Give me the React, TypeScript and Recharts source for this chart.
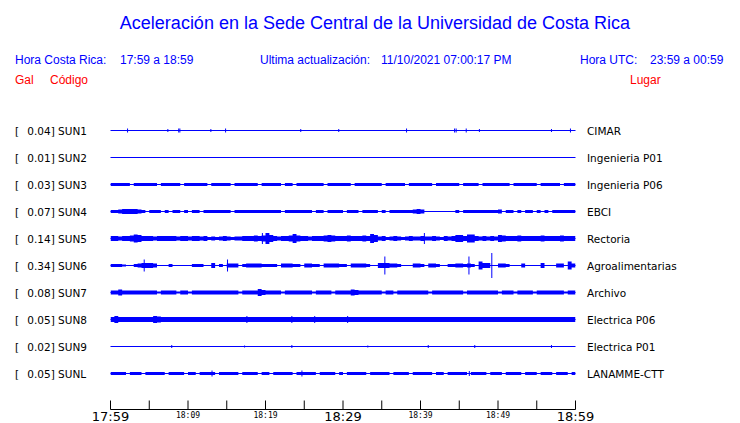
import React from 'react';
import { ComposedChart, Area, XAxis, YAxis, ReferenceLine } from 'recharts';

// ---------- stations ----------
const codes = ['SUN1', 'SUN2', 'SUN3', 'SUN4', 'SUN5', 'SUN6', 'SUN7', 'SUN8', 'SUN9', 'SUNL'];
const peaks = ['0.04', '0.01', '0.03', '0.07', '0.14', '0.34', '0.08', '0.05', '0.02', '0.05'];
const places = [
  'CIMAR', 'Ingenieria P01', 'Ingenieria P06', 'EBCI', 'Rectoria',
  'Agroalimentarias', 'Archivo', 'Electrica P06', 'Electrica P01', 'LANAMME-CTT',
];

// ---------- time axis (minutes after 17:59) ----------
const tickMinutes = [0, 5, 10, 15, 20, 25, 30, 35, 40, 45, 50, 55, 60];
const tickLabels = ['17:59', '', '18:09', '', '18:19', '', '18:29', '', '18:39', '', '18:49', '', '18:59'];
const majorLabels = ['17:59', '18:29', '18:59'];
const sampleStep = 0.5; // minutes between envelope samples (121 samples)

// ---------- envelope half-amplitudes, one per 0.5 min ----------
const sun1Env: number[] = [];
const sun2Env: number[] = [];
const sun3Env = [
  1.5, 1.5, 1.5, 1.5, 1.5, 0, 1.5, 1.5, 1.5, 1.5,
  1.5, 1.5, 0, 1.5, 1.5, 1.5, 1.5, 1.5, 0, 1.5,
  1.5, 1.5, 1.5, 1.5, 1.5, 0, 1.5, 1.5, 1.5, 1.5,
  1.5, 0, 1.5, 1.5, 1.5, 1.5, 1.5, 1.5, 0, 1.5,
  1.5, 1.5, 1.5, 1.5, 0, 1.5, 1.5, 0, 1.5, 1.5,
  1.5, 1.5, 1.5, 1.5, 1.5, 0, 1.5, 1.5, 1.5, 1.5,
  1.5, 1.5, 0, 1.5, 1.5, 1.5, 1.5, 1.5, 1.5, 1.5,
  0, 1.5, 1.5, 1.5, 1.5, 1.5, 0, 1.5, 1.5, 1.5,
  1.5, 1.5, 1.5, 0, 1.5, 1.5, 1.5, 1.5, 1.5, 1.5,
  0, 1.5, 1.5, 1.5, 1.5, 0, 1.5, 1.5, 1.5, 1.5,
  1.5, 1.5, 1.5, 0, 1.5, 1.5, 1.5, 1.5, 1.5, 1.5,
  0, 1.5, 1.5, 1.5, 1.5, 1.5, 0, 1.5, 1.5, 1.5,
  1.5,
];
const sun4Env = [
  1.5, 1.5, 2, 2.5, 2.5, 2.5, 2.5, 2, 1.5, 0,
  1.5, 1.5, 1.5, 0, 1.5, 0, 1.5, 1.5, 0, 1.5,
  0, 1.5, 1.5, 0, 1.5, 1.5, 1.5, 1.5, 1.5, 1.5,
  1.5, 0, 1.5, 1.5, 1.5, 1.5, 1.5, 1.5, 1.5, 1.5,
  1.5, 1.5, 1.5, 1.5, 0, 1.5, 1.5, 1.5, 1.5, 1.5,
  1.5, 1.5, 0, 1.5, 1.5, 0, 1.5, 1.5, 1.5, 1.5,
  0, 1.5, 1.5, 1.5, 0, 1.5, 1.5, 1.5, 1.5, 0,
  1.5, 0, 1.5, 1.5, 1.5, 1.5, 1.5, 1.5, 2, 2.5,
  2, 0, 0, 0.5, 0, 0, 0, 0, 0.5, 1.5,
  0, 1.5, 1.5, 1.5, 1.5, 1.5, 1.5, 1.5, 1.5, 1.5,
  2, 0, 1.5, 1.5, 0, 1.5, 0, 1.5, 1.5, 0,
  1.5, 0, 1.5, 0, 1.5, 1.5, 1.5, 1.5, 1.5, 1.5,
  1.5,
];
const sun5Env = [
  2.5, 2.5, 2, 2.5, 2.5, 3, 4, 3.5, 2.5, 2.5,
  2.5, 2, 2.5, 2.5, 2.5, 2.5, 2.5, 2, 2.5, 2.5,
  2, 2.5, 2.5, 2, 2.5, 1.5, 2, 1.5, 2, 2.5,
  2, 1.5, 2, 2, 2.5, 2.5, 2.5, 3, 2.5, 3,
  5.5, 3.5, 2.5, 2, 2.5, 2.5, 3, 4.5, 3, 2.5,
  2.5, 2, 2.5, 2.5, 2.5, 3, 3.5, 3, 2.5, 2.5,
  2.5, 3, 2.5, 2.5, 2.5, 3, 2.5, 4.5, 3.5, 2,
  2.5, 1.5, 2, 2.5, 2, 1.5, 2, 2.5, 2, 2,
  2.5, 2, 2, 2.5, 2, 1.5, 2.5, 2, 2.5, 3.5,
  3.5, 2.5, 4, 4, 2.5, 2, 2.5, 2, 2.5, 2,
  3.5, 3, 2.5, 2.5, 2.5, 3, 2.5, 2.5, 2.5, 2.5,
  2.5, 3, 2.5, 2.5, 2.5, 2.5, 3, 2.5, 2.5, 2.5,
  2.5,
];
const sun6Env = [
  1.5, 1.5, 1.5, 1, 0, 0, 1.5, 2, 2.5, 2.5,
  2.5, 2, 0, 0, 0, 1.5, 0, 0, 0, 0,
  0, 1.5, 1.5, 1.5, 0, 0, 2.5, 0, 1.5, 0,
  2, 2, 2, 0, 1.5, 2, 2, 2, 2, 1.5,
  1.5, 1.5, 1.5, 0, 2, 2, 2, 1.5, 1.5, 0,
  2, 2, 1.5, 1.5, 0, 2, 2, 2, 2, 1.5,
  1.5, 0, 2, 2, 2, 2, 1.5, 0, 0, 2.5,
  2.5, 2.5, 2, 2, 1.5, 0, 0, 0, 2, 2,
  1.5, 0, 2, 2, 1.5, 0, 0, 1.5, 1.5, 2,
  2, 1.5, 2, 1.5, 0, 4, 2.5, 2.5, 0, 0,
  2, 2, 1.5, 0, 0, 0, 2, 0, 0, 0,
  0, 2.5, 0, 0, 0, 2, 2, 0, 4, 2,
  0,
];
const sun7Env = [
  2, 2, 3, 2, 2, 2, 2, 2, 2, 2,
  2, 2, 1, 2, 2, 2, 2, 1, 2, 2,
  1, 2, 2, 2, 2, 2, 2, 2, 2, 2,
  2, 2, 2, 1, 2, 2, 2, 2, 3.5, 2.5,
  2, 2, 2, 2, 1, 2, 2, 2, 2, 2,
  2, 2, 1, 2, 2, 2, 2, 1, 2, 2,
  2, 2, 3, 2.5, 2, 2, 2, 2, 2, 2,
  1, 2, 2, 1, 2, 2, 2, 2, 2, 2,
  2, 2, 1, 2, 2, 2, 2, 2, 2, 2,
  2, 1, 2, 2, 2, 2, 2, 2, 2, 2,
  1, 2, 2, 2, 1, 2, 2, 2, 2, 1,
  2, 2, 2, 2, 2, 2, 2, 1, 2, 2,
  2,
];
const sun8Env = [
  2.5, 3.5, 2.5, 2.5, 2.5, 2.5, 2.5, 2.5, 2.5, 2.5,
  2.5, 3.5, 3, 2.5, 2.5, 2.5, 2.5, 2.5, 2.5, 2.5,
  2.5, 2.5, 2.5, 2.5, 2.5, 2.5, 2.5, 2.5, 2.5, 2.5,
  2.5, 2.5, 2.5, 2.5, 2.5, 2.5, 2.5, 2.5, 2.5, 2.5,
  2.5, 2.5, 2.5, 2.5, 2.5, 2.5, 2.5, 2.5, 2.5, 2.5,
  2.5, 2.5, 2.5, 2.5, 2.5, 2.5, 2.5, 2.5, 2.5, 2.5,
  2.5, 2.5, 2.5, 2.5, 2.5, 2.5, 2.5, 2.5, 2.5, 2.5,
  2.5, 2.5, 2.5, 2.5, 2.5, 2.5, 2.5, 2.5, 2.5, 2.5,
  2.5, 2.5, 2.5, 2.5, 2.5, 2.5, 2.5, 2.5, 2.5, 2.5,
  2.5, 2.5, 2.5, 2.5, 2.5, 2.5, 2.5, 2.5, 2.5, 2.5,
  2.5, 2.5, 2.5, 2.5, 2.5, 2.5, 2.5, 2.5, 2.5, 2.5,
  2.5, 2.5, 2.5, 2.5, 2.5, 2.5, 2.5, 2.5, 2.5, 2.5,
  2.5,
];
const sun9Env: number[] = [];
const sunLEnv = [
  1.5, 1.5, 1.5, 1.5, 0, 1.5, 1.5, 1.5, 0, 1.5,
  1.5, 1.5, 1.5, 1.5, 0, 1.5, 1.5, 1.5, 1.5, 0,
  1.5, 1.5, 0, 1.5, 1.5, 1.5, 1.5, 0, 1.5, 1.5,
  1.5, 1.5, 1.5, 0, 1.5, 1.5, 1.5, 1.5, 0, 1.5,
  1.5, 0, 1.5, 1.5, 1.5, 1.5, 1.5, 0, 1.5, 1.5,
  1.5, 1.5, 1.5, 0, 1.5, 1.5, 1.5, 1.5, 0, 1.5,
  0, 1.5, 1.5, 1.5, 1.5, 1.5, 0, 1.5, 1.5, 1.5,
  1.5, 1.5, 0, 1.5, 1.5, 1.5, 1.5, 0, 1.5, 1.5,
  1.5, 1.5, 1.5, 0, 1.5, 1.5, 0, 1.5, 1.5, 1.5,
  1.5, 1.5, 0, 1.5, 1.5, 1.5, 1.5, 0, 1.5, 1.5,
  1.5, 0, 1.5, 1.5, 1.5, 1.5, 0, 1.5, 1.5, 1.5,
  0, 1.5, 1.5, 1.5, 0, 1.5, 1.5, 1.5, 0, 1.5,
  1.5,
];

// ---------- isolated spikes [minute, half-amplitude] ----------
const sun1Spikes = [
  [2.2, 2], [7.4, 1.5], [8.8, 2], [8.95, 2], [12.95, 1.5], [14.85, 2], [24.55, 1.5],
  [29.45, 1.5], [38.2, 2], [44.4, 2], [44.6, 2], [45.9, 2], [47.6, 1.5], [56.9, 1.5], [59.35, 2],
];
const sun5Spikes = [[19.6, 5.5], [40.5, 5.5]];
const sun6Spikes = [[4.35, 6], [15.1, 6], [35.4, 9], [46.25, 9], [49.2, 12.5]];
const sun8Spikes = [[17.6, 3.5], [23.4, 3.5], [26.35, 3.5], [30.6, 3.5]];
const sun9Spikes = [[7.9, 1.5], [17.3, 1], [23.4, 1.5], [33.2, 1], [41.0, 1.5], [47.0, 1.5], [56.9, 1.5]];
const sunLSpikes = [[13.1, 3], [24.7, 3], [46.3, 2.5]];

const envelopes = [sun1Env, sun2Env, sun3Env, sun4Env, sun5Env, sun6Env, sun7Env, sun8Env, sun9Env, sunLEnv];
const spikes = [sun1Spikes, [], [], [], sun5Spikes, sun6Spikes, [], sun8Spikes, sun9Spikes, sunLSpikes];

// ---------- layout ----------
const BLUE = '#0000ff';
const RED = '#ff0000';
const W = 740;
const H = 423;
const PLOT_TOP = 103;
const PLOT_BOTTOM = 409.5;
const PLOT_LEFT = 110.5;
const PLOT_RIGHT = 575.5;
const Y_SPAN = PLOT_BOTTOM - PLOT_TOP; // one y unit per pixel
const ROW0 = 279;
const ROW_GAP = 27;
const rowCenter = (i: number) => ROW0 - ROW_GAP * i;
const rowPixel = (i: number) => PLOT_TOP + (Y_SPAN - rowCenter(i));

const sampleCount = sun3Env.length;
const rows = Array.from({ length: sampleCount }, (_, k) => {
  const row: Record<string, number | number[]> = { t: k * sampleStep };
  codes.forEach((code, i) => {
    const a = envelopes[i][k] ?? 0;
    const c = rowCenter(i);
    row[code] = [c - a, c + a];
  });
  return row;
});

const SANS = '"Liberation Sans", Arial, Helvetica, sans-serif';
const LABEL_FONT = '"DejaVu Sans", Verdana, sans-serif';

const renderTick = (props: any) => {
  const { x, y, payload } = props;
  const label = tickLabels[tickMinutes.indexOf(payload.value)] || '';
  const major = majorLabels.includes(label);
  return (
    <g>
      <line x1={x} x2={x} y1={y} y2={y - 9} stroke="#000" strokeWidth={1} />
      {label ? (
        <text
          x={x}
          y={major ? y + 11.5 : y + 8.5}
          textAnchor="middle"
          fontFamily={major ? LABEL_FONT : '"DejaVu Sans Mono", monospace'}
          fontSize={major ? 13 : 8}
          fill="#000"
        >
          {label}
        </text>
      ) : null}
    </g>
  );
};

export default function App() {
  return (
    <div style={{ position: 'absolute', left: 0, top: 0, width: W, height: H, background: '#fff' }}>
      <ComposedChart
        width={W}
        height={H}
        data={rows}
        margin={{ top: PLOT_TOP, right: W - PLOT_RIGHT, bottom: 0, left: PLOT_LEFT }}
      >
        <XAxis
          dataKey="t"
          type="number"
          domain={[0, 60]}
          ticks={tickMinutes}
          interval={0}
          height={H - PLOT_BOTTOM}
          tickSize={0}
          tickMargin={0}
          tickLine={false}
          axisLine={{ stroke: '#000', strokeWidth: 1 }}
          tick={renderTick}
          allowDataOverflow
        />
        <YAxis hide type="number" domain={[0, Y_SPAN]} allowDataOverflow />
        {codes.map((code, i) => (
          <ReferenceLine
            key={`base-${code}`}
            y={rowCenter(i)}
            stroke={BLUE}
            strokeWidth={1}
          />
        ))}
        {codes.map((code) => (
          <Area
            key={code}
            dataKey={code}
            type="stepAfter"
            stroke="none"
            fill={BLUE}
            fillOpacity={1}
            dot={false}
            activeDot={false}
            isAnimationActive={false}
          />
        ))}
        {spikes.map((list, i) =>
          list.map(([t, a], j) => (
            <ReferenceLine
              key={`${i}-${j}`}
              segment={[
                { x: t, y: rowCenter(i) - a },
                { x: t, y: rowCenter(i) + a },
              ]}
              stroke={BLUE}
              strokeWidth={1}
              ifOverflow="visible"
            />
          ))
        )}
      </ComposedChart>
      <svg
        width={W}
        height={H}
        style={{ position: 'absolute', left: 0, top: 0, pointerEvents: 'none' }}
      >
        <text x={375} y={29} textAnchor="middle" fontFamily={SANS} fontSize={18} fill={BLUE}>
          Aceleración en la Sede Central de la Universidad de Costa Rica
        </text>
        <g fontFamily={SANS} fontSize={12} fill={BLUE}>
          <text x={15} y={64}>Hora Costa Rica:</text>
          <text x={120} y={64}>17:59 a 18:59</text>
          <text x={260} y={64}>Ultima actualización:</text>
          <text x={381} y={64}>11/10/2021 07:00:17 PM</text>
          <text x={580} y={64}>Hora UTC:</text>
          <text x={650} y={64}>23:59 a 00:59</text>
        </g>
        <g fontFamily={SANS} fontSize={12} fill={RED}>
          <text x={15} y={84}>Gal</text>
          <text x={50} y={84}>Código</text>
          <text x={630} y={84}>Lugar</text>
        </g>
        <g fontFamily={LABEL_FONT} fontSize={10.5} fill="#000">
          {codes.map((code, i) => (
            <g key={code}>
              <text x={15} y={rowPixel(i) + 4}>[</text>
              <text x={27.3} y={rowPixel(i) + 4}>{`${peaks[i]}] ${code}`}</text>
              <text x={587} y={rowPixel(i) + 4}>{places[i]}</text>
            </g>
          ))}
        </g>
      </svg>
    </div>
  );
}
